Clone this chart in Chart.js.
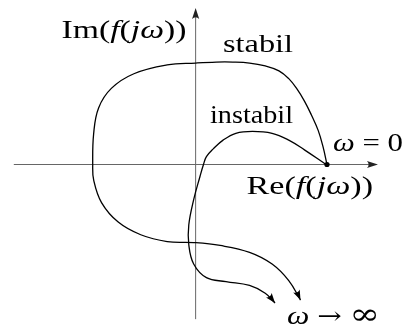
<!DOCTYPE html>
<html>
<head>
<meta charset="utf-8">
<script src="https://cdn.jsdelivr.net/npm/chart.js@4/dist/chart.umd.min.js"></script>
<style>
  html, body { margin: 0; padding: 0; background: #fff; }
  #wrap { width: 405px; height: 329px; }
</style>
</head>
<body>
<div id="wrap"><canvas id="nyquist" width="405" height="329"></canvas></div>
<script>
(function() {
  var ctx = document.getElementById('nyquist');

  /* Nyquist curves, in plot units (1 unit = 10 px) */
  var stabilX = [13.4, 13.0, 12.5, 11.8, 11.1, 10.3, 9.5, 8.5, 7.1, 5.5, 3.8, 2.1, 0.0, -2.9, -6.3, -8.6, -9.9, -10.4, -10.5,
                 -10.4, -9.6, -7.9, -5.6, -2.9, -0.2, 2.5, 5.5, 7.8, 9.5, 10.7];
  var stabilY = [0.0, 1.8, 3.5, 5.1, 6.5, 7.8, 8.8, 9.6, 10.1, 10.4, 10.5, 10.5, 10.4, 10.2, 9.3, 7.8, 5.8, 3.2, 0.0,
                 -1.6, -3.9, -5.9, -7.2, -7.9, -8.0, -8.3, -9.0, -10.2, -11.9, -13.9];

  var instabilX = [13.3, 11.1, 9.5, 7.8, 5.8, 4.1, 2.8, 1.8, 1.1, 0.8, 0.45, -0.2, -0.7, -0.7, -0.2, 1.1, 3.1, 5.5, 7.1, 8.1];
  var instabilY = [0.0, 1.5, 2.5, 3.2, 3.4, 3.2, 2.5, 1.6, 0.8, 0.0, -1.2, -3.6, -6.2, -8.2, -10.2, -11.6, -12.0, -12.4, -13.2, -14.2];

  /* axis extents */
  var axisX = [-18.55, 18.6];
  var axisY = [-15.85, 16.05];

  var curveColor = '#000';
  var axisColor = '#666';
  var serif = '"Liberation Serif", "Times New Roman", serif';
  var symbolFont = '"DejaVu Serif", serif';

  function toPoints(xs, ys) {
    return xs.map(function(x, i) { return { x: x, y: ys[i] }; });
  }

  function curve(label, xs, ys) {
    return {
      label: label,
      data: toPoints(xs, ys),
      showLine: true,
      borderColor: curveColor,
      borderWidth: 1.3,
      tension: 0.4,
      pointRadius: 0,
      fill: false
    };
  }

  /* LaTeX-like filled arrow head */
  function arrowHead(c, tx, ty, ang, len, half) {
    c.save();
    c.translate(tx, ty);
    c.rotate(ang);
    c.beginPath();
    c.moveTo(0, 0);
    c.lineTo(-len, -half);
    c.quadraticCurveTo(-len * 0.7, 0, -len, half);
    c.closePath();
    c.fill();
    c.restore();
  }

  function runFont(r, size) {
    return (r[1] ? 'italic ' : '') + (r[2] || size) + 'px ' + (r[3] || serif);
  }

  /* mixed upright / italic text, stretched to a given width */
  function mathText(c, runs, left, base, width, size) {
    c.save();
    var total = 0;
    runs.forEach(function(r) {
      c.font = runFont(r, size);
      total += c.measureText(r[0]).width;
    });
    c.translate(left, base);
    c.scale(width / total, 1);
    c.textBaseline = 'alphabetic';
    c.textAlign = 'left';
    c.fillStyle = '#000';
    var x = 0;
    runs.forEach(function(r) {
      c.font = runFont(r, size);
      c.fillText(r[0], x, 0);
      x += c.measureText(r[0]).width;
    });
    c.restore();
  }

  new Chart(ctx, {
    type: 'scatter',
    data: {
      datasets: [
        curve('stabil', stabilX, stabilY),
        curve('instabil', instabilX, instabilY),
        {
          label: 'omega0',
          data: [{ x: stabilX[0], y: stabilY[0] }],
          pointRadius: 2.6,
          pointBackgroundColor: curveColor,
          pointBorderWidth: 0
        }
      ]
    },
    options: {
      responsive: false,
      animation: false,
      layout: { padding: 0 },
      plugins: { legend: { display: false }, tooltip: { enabled: false } },
      scales: {
        x: { type: 'linear', min: -19.55, max: 20.95, display: false },
        y: { type: 'linear', min: -16.45, max: 16.45, display: false }
      }
    },
    plugins: [{
      id: 'axesAndLabels',
      beforeDatasetsDraw: function(chart) {
        var c = chart.ctx;
        var xs = chart.scales.x, ys = chart.scales.y;
        var x0 = xs.getPixelForValue(0), y0 = ys.getPixelForValue(0);
        var xa = xs.getPixelForValue(axisX[0]), xb = xs.getPixelForValue(axisX[1]);
        var ya = ys.getPixelForValue(axisY[0]), yb = ys.getPixelForValue(axisY[1]);
        c.save();
        c.strokeStyle = axisColor;
        c.fillStyle = '#222';
        c.lineWidth = 1;
        c.beginPath();
        c.moveTo(xa, y0); c.lineTo(xb - 6, y0);
        c.moveTo(x0, ya); c.lineTo(x0, yb + 6);
        c.stroke();
        arrowHead(c, xb, y0, 0, 11, 3.6);
        arrowHead(c, x0, yb, -Math.PI / 2, 11, 3.6);
        c.restore();
      },
      afterDatasetsDraw: function(chart) {
        var c = chart.ctx;
        var xs = chart.scales.x, ys = chart.scales.y;
        c.save();
        c.fillStyle = curveColor;
        [[stabilX, stabilY], [instabilX, instabilY]].forEach(function(s) {
          var n = s[0].length;
          var tx = xs.getPixelForValue(s[0][n - 1]), ty = ys.getPixelForValue(s[1][n - 1]);
          var px = xs.getPixelForValue(s[0][n - 2]), py = ys.getPixelForValue(s[1][n - 2]);
          arrowHead(c, tx, ty, Math.atan2(ty - py, tx - px) + 0.12, 10, 3.6);
        });
        c.restore();

        var size = 26;
        mathText(c, [['Im(', false], ['f', true], ['(', false], ['jω', true], ['))', false]], 61.5, 38, 125, size);
        mathText(c, [['stabil', false]], 223, 52, 70, size);
        mathText(c, [['instabil', false]], 210, 123, 83, size);
        mathText(c, [['ω', true], [' = 0', false]], 333, 151, 70, size);
        mathText(c, [['Re(', false], ['f', true], ['(', false], ['jω', true], ['))', false]], 246.5, 194, 126.5, size);
        mathText(c, [['ω ', true], ['→', false, 24, symbolFont], [' ', false], ['∞', false, 30, symbolFont]], 287, 324, 93, size);
      }
    }]
  });
})();
</script>
</body>
</html>
